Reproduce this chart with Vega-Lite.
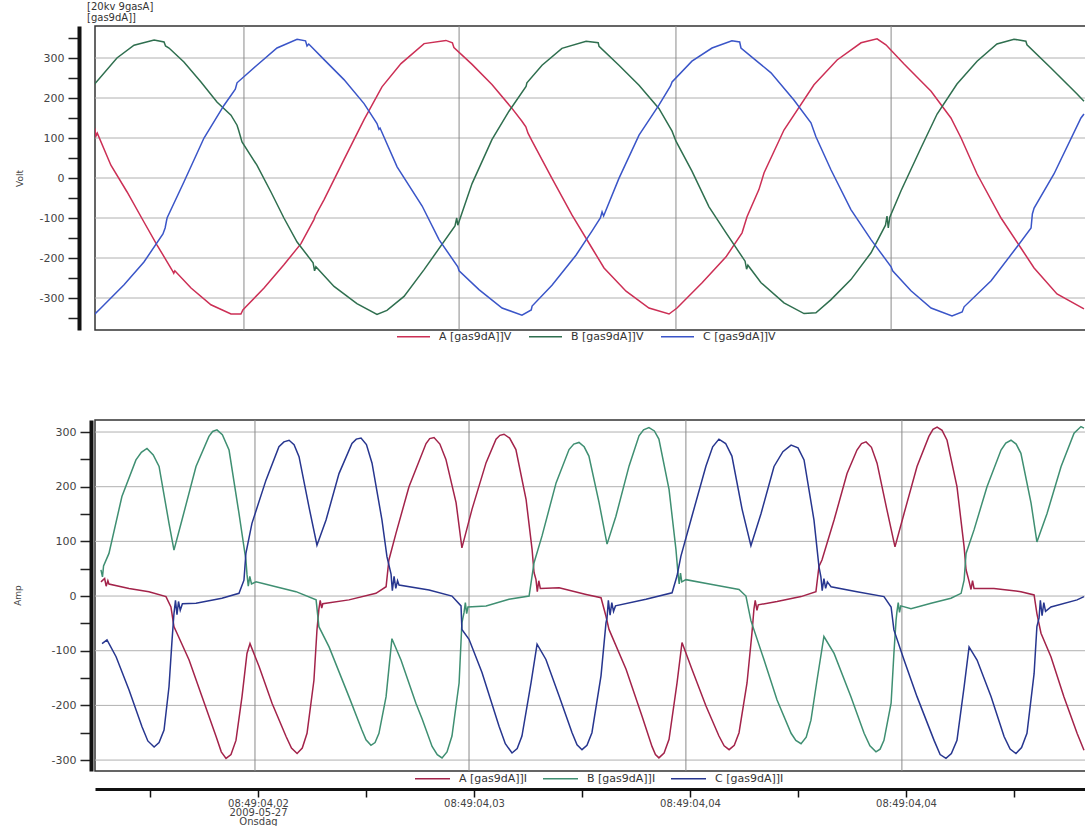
{
"$schema": "https://vega.github.io/schema/vega-lite/v6.json",
"usermeta": {"embedOptions": {"actions": false}},
"background": "white",
"padding": {"left": 12, "top": 0, "right": 0, "bottom": 0},
"config": {"font": "DejaVu Sans", "view": {"stroke": "#333333", "strokeWidth": 1.5}},
"datasets": {
"volt": [
{"p":"A","t":12.27,"v":140},{"p":"A","t":12.45,"v":122},{"p":"A","t":12.5,"v":105},{"p":"A","t":12.56,"v":112},{"p":"A","t":13.19,"v":32},{"p":"A","t":13.94,"v":-35},{"p":"A","t":14.72,"v":-110},{"p":"A","t":15.32,"v":-167},{"p":"A","t":16.02,"v":-230},{"p":"A","t":16.1,"v":-238},{"p":"A","t":16.15,"v":-232},{"p":"A","t":16.9,"v":-275},{"p":"A","t":17.82,"v":-317},{"p":"A","t":18.75,"v":-340},{"p":"A","t":19.21,"v":-340},{"p":"A","t":19.3,"v":-330},{"p":"A","t":19.44,"v":-322},{"p":"A","t":20.28,"v":-275},{"p":"A","t":21.2,"v":-217},{"p":"A","t":21.99,"v":-164},{"p":"A","t":22.59,"v":-104},{"p":"A","t":22.65,"v":-95},{"p":"A","t":23.06,"v":-54},{"p":"A","t":23.98,"v":46},{"p":"A","t":24.91,"v":146},{"p":"A","t":25.74,"v":228},{"p":"A","t":26.62,"v":286},{"p":"A","t":27.69,"v":336},{"p":"A","t":28.7,"v":344},{"p":"A","t":29.0,"v":338},{"p":"A","t":29.07,"v":326},{"p":"A","t":29.91,"v":284},{"p":"A","t":30.83,"v":234},{"p":"A","t":31.76,"v":174},{"p":"A","t":32.22,"v":142},{"p":"A","t":32.4,"v":128},{"p":"A","t":32.5,"v":112},{"p":"A","t":32.69,"v":92},{"p":"A","t":33.61,"v":-1},{"p":"A","t":34.54,"v":-93},{"p":"A","t":35.46,"v":-175},{"p":"A","t":36.02,"v":-225},{"p":"A","t":37.04,"v":-283},{"p":"A","t":38.1,"v":-325},{"p":"A","t":39.03,"v":-340},{"p":"A","t":39.4,"v":-325},{"p":"A","t":40.56,"v":-262},{"p":"A","t":41.67,"v":-197},{"p":"A","t":42.41,"v":-137},{"p":"A","t":42.64,"v":-97},{"p":"A","t":43.19,"v":-29},{"p":"A","t":43.43,"v":13},{"p":"A","t":44.35,"v":120},{"p":"A","t":45.74,"v":233},{"p":"A","t":46.81,"v":295},{"p":"A","t":47.92,"v":338},{"p":"A","t":48.66,"v":348},{"p":"A","t":49.07,"v":333},{"p":"A","t":49.91,"v":285},{"p":"A","t":51.16,"v":217},{"p":"A","t":52.08,"v":150},{"p":"A","t":52.55,"v":100},{"p":"A","t":53.29,"v":10},{"p":"A","t":54.4,"v":-100},{"p":"A","t":55.32,"v":-175},{"p":"A","t":55.93,"v":-225},{"p":"A","t":56.99,"v":-290},{"p":"A","t":58.24,"v":-327},
{"p":"B","t":12.27,"v":207},{"p":"B","t":12.31,"v":227},{"p":"B","t":13.47,"v":300},{"p":"B","t":14.26,"v":332},{"p":"B","t":15.19,"v":345},{"p":"B","t":15.65,"v":340},{"p":"B","t":15.72,"v":330},{"p":"B","t":15.88,"v":325},{"p":"B","t":16.57,"v":290},{"p":"B","t":17.36,"v":240},{"p":"B","t":18.1,"v":190},{"p":"B","t":18.75,"v":157},{"p":"B","t":19.03,"v":132},{"p":"B","t":19.1,"v":120},{"p":"B","t":19.26,"v":90},{"p":"B","t":19.95,"v":32},{"p":"B","t":20.6,"v":-35},{"p":"B","t":21.2,"v":-100},{"p":"B","t":21.81,"v":-160},{"p":"B","t":22.55,"v":-212},{"p":"B","t":22.62,"v":-232},{"p":"B","t":22.68,"v":-222},{"p":"B","t":23.52,"v":-271},{"p":"B","t":24.58,"v":-314},{"p":"B","t":25.51,"v":-341},{"p":"B","t":25.97,"v":-331},{"p":"B","t":26.76,"v":-296},{"p":"B","t":27.69,"v":-229},{"p":"B","t":29.12,"v":-120},{"p":"B","t":29.2,"v":-100},{"p":"B","t":29.25,"v":-118},{"p":"B","t":29.91,"v":-14},{"p":"B","t":30.83,"v":96},{"p":"B","t":31.62,"v":167},{"p":"B","t":32.41,"v":229},{"p":"B","t":32.45,"v":238},{"p":"B","t":33.15,"v":282},{"p":"B","t":34.07,"v":324},{"p":"B","t":35.19,"v":342},{"p":"B","t":35.75,"v":338},{"p":"B","t":35.79,"v":329},{"p":"B","t":36.71,"v":282},{"p":"B","t":37.64,"v":232},{"p":"B","t":38.56,"v":174},{"p":"B","t":39.17,"v":117},{"p":"B","t":39.35,"v":92},{"p":"B","t":40.09,"v":17},{"p":"B","t":40.88,"v":-72},{"p":"B","t":41.67,"v":-137},{"p":"B","t":42.55,"v":-208},{"p":"B","t":42.62,"v":-228},{"p":"B","t":42.68,"v":-218},{"p":"B","t":43.29,"v":-262},{"p":"B","t":44.35,"v":-312},{"p":"B","t":45.28,"v":-339},{"p":"B","t":45.83,"v":-337},{"p":"B","t":46.53,"v":-304},{"p":"B","t":47.45,"v":-254},{"p":"B","t":48.38,"v":-187},{"p":"B","t":49.05,"v":-118},{"p":"B","t":49.12,"v":-95},{"p":"B","t":49.18,"v":-125},{"p":"B","t":49.25,"v":-98},{"p":"B","t":49.77,"v":-32},{"p":"B","t":50.69,"v":75},{"p":"B","t":51.44,"v":160},{"p":"B","t":52.36,"v":235},{"p":"B","t":53.29,"v":292},{"p":"B","t":54.21,"v":335},{"p":"B","t":55.0,"v":347},{"p":"B","t":55.55,"v":342},{"p":"B","t":55.6,"v":333},{"p":"B","t":56.71,"v":275},{"p":"B","t":57.92,"v":210},{"p":"B","t":58.24,"v":192},
{"p":"C","t":12.41,"v":-342},{"p":"C","t":12.73,"v":-325},{"p":"C","t":13.8,"v":-267},{"p":"C","t":14.72,"v":-210},{"p":"C","t":15.6,"v":-140},{"p":"C","t":15.7,"v":-125},{"p":"C","t":15.79,"v":-100},{"p":"C","t":16.57,"v":-10},{"p":"C","t":17.5,"v":100},{"p":"C","t":18.43,"v":182},{"p":"C","t":18.95,"v":222},{"p":"C","t":19.03,"v":238},{"p":"C","t":19.95,"v":282},{"p":"C","t":20.88,"v":325},{"p":"C","t":21.81,"v":347},{"p":"C","t":22.2,"v":343},{"p":"C","t":22.27,"v":330},{"p":"C","t":22.35,"v":335},{"p":"C","t":23.06,"v":296},{"p":"C","t":23.98,"v":246},{"p":"C","t":24.91,"v":186},{"p":"C","t":25.51,"v":136},{"p":"C","t":25.6,"v":122},{"p":"C","t":25.65,"v":125},{"p":"C","t":26.44,"v":28},{"p":"C","t":27.6,"v":-70},{"p":"C","t":28.38,"v":-154},{"p":"C","t":29.25,"v":-222},{"p":"C","t":29.31,"v":-232},{"p":"C","t":30.23,"v":-279},{"p":"C","t":31.3,"v":-325},{"p":"C","t":32.22,"v":-343},{"p":"C","t":32.65,"v":-330},{"p":"C","t":32.69,"v":-320},{"p":"C","t":33.61,"v":-268},{"p":"C","t":34.72,"v":-193},{"p":"C","t":35.46,"v":-133},{"p":"C","t":35.85,"v":-100},{"p":"C","t":35.93,"v":-85},{"p":"C","t":36.0,"v":-95},{"p":"C","t":36.71,"v":-1},{"p":"C","t":37.64,"v":107},{"p":"C","t":38.56,"v":182},{"p":"C","t":39.1,"v":230},{"p":"C","t":39.17,"v":240},{"p":"C","t":40.09,"v":292},{"p":"C","t":41.02,"v":325},{"p":"C","t":41.94,"v":343},{"p":"C","t":42.3,"v":340},{"p":"C","t":42.36,"v":325},{"p":"C","t":43.19,"v":288},{"p":"C","t":43.75,"v":263},{"p":"C","t":44.81,"v":195},{"p":"C","t":45.6,"v":138},{"p":"C","t":45.83,"v":103},{"p":"C","t":46.53,"v":20},{"p":"C","t":47.45,"v":-79},{"p":"C","t":48.38,"v":-154},{"p":"C","t":49.31,"v":-222},{"p":"C","t":49.38,"v":-232},{"p":"C","t":50.23,"v":-282},{"p":"C","t":51.16,"v":-325},{"p":"C","t":52.13,"v":-345},{"p":"C","t":52.6,"v":-335},{"p":"C","t":52.69,"v":-322},{"p":"C","t":53.94,"v":-257},{"p":"C","t":55.0,"v":-182},{"p":"C","t":55.79,"v":-125},{"p":"C","t":55.85,"v":-90},{"p":"C","t":55.93,"v":-75},{"p":"C","t":56.85,"v":10},{"p":"C","t":58.1,"v":150},{"p":"C","t":58.24,"v":160}
],
"amp": [
{"p":"A","t":12.73,"v":26},{"p":"A","t":12.9,"v":32},{"p":"A","t":12.97,"v":18},{"p":"A","t":13.05,"v":28},{"p":"A","t":13.1,"v":22},{"p":"A","t":14.03,"v":14},{"p":"A","t":14.95,"v":8},{"p":"A","t":15.74,"v":-1},{"p":"A","t":15.97,"v":-20},{"p":"A","t":16.11,"v":-56},{"p":"A","t":16.25,"v":-68},{"p":"A","t":16.81,"v":-117},{"p":"A","t":17.41,"v":-184},{"p":"A","t":18.06,"v":-257},{"p":"A","t":18.52,"v":-297},{"p":"A","t":18.98,"v":-264},{"p":"A","t":19.26,"v":-184},{"p":"A","t":19.49,"v":-105},{"p":"A","t":19.63,"v":-87},{"p":"A","t":20.05,"v":-129},{"p":"A","t":20.65,"v":-196},{"p":"A","t":21.3,"v":-257},{"p":"A","t":21.81,"v":-288},{"p":"A","t":22.27,"v":-251},{"p":"A","t":22.59,"v":-154},{"p":"A","t":22.73,"v":-62},{"p":"A","t":22.82,"v":-24},{"p":"A","t":22.88,"v":-8},{"p":"A","t":22.95,"v":-22},{"p":"A","t":23.0,"v":-14},{"p":"A","t":24.21,"v":-7},{"p":"A","t":25.46,"v":5},{"p":"A","t":25.93,"v":17},{"p":"A","t":26.06,"v":66},{"p":"A","t":26.39,"v":115},{"p":"A","t":26.99,"v":200},{"p":"A","t":27.78,"v":279},{"p":"A","t":28.15,"v":290},{"p":"A","t":28.7,"v":250},{"p":"A","t":29.17,"v":171},{"p":"A","t":29.44,"v":88},{"p":"A","t":29.91,"v":159},{"p":"A","t":30.56,"v":244},{"p":"A","t":31.02,"v":287},{"p":"A","t":31.39,"v":296},{"p":"A","t":31.94,"v":268},{"p":"A","t":32.41,"v":177},{"p":"A","t":32.69,"v":85},{"p":"A","t":32.78,"v":43},{"p":"A","t":32.87,"v":30},{"p":"A","t":32.93,"v":8},{"p":"A","t":33.0,"v":28},{"p":"A","t":33.07,"v":14},{"p":"A","t":33.94,"v":15},{"p":"A","t":35.19,"v":3},{"p":"A","t":35.88,"v":-3},{"p":"A","t":36.11,"v":-37},{"p":"A","t":36.25,"v":-61},{"p":"A","t":37.04,"v":-134},{"p":"A","t":37.78,"v":-220},{"p":"A","t":38.24,"v":-275},{"p":"A","t":38.56,"v":-296},{"p":"A","t":39.03,"v":-262},{"p":"A","t":39.4,"v":-159},{"p":"A","t":39.63,"v":-85},{"p":"A","t":40.09,"v":-134},{"p":"A","t":40.74,"v":-201},{"p":"A","t":41.34,"v":-256},{"p":"A","t":41.81,"v":-281},{"p":"A","t":42.27,"v":-250},{"p":"A","t":42.64,"v":-159},{"p":"A","t":42.87,"v":-67},{"p":"A","t":42.96,"v":-24},{"p":"A","t":43.02,"v":-8},{"p":"A","t":43.1,"v":-26},{"p":"A","t":43.16,"v":-16},{"p":"A","t":44.03,"v":-10},{"p":"A","t":45.14,"v":-1},{"p":"A","t":45.83,"v":8},{"p":"A","t":45.97,"v":54},{"p":"A","t":46.11,"v":66},{"p":"A","t":46.67,"v":139},{"p":"A","t":47.27,"v":224},{"p":"A","t":47.73,"v":267},{"p":"A","t":48.15,"v":282},{"p":"A","t":48.66,"v":243},{"p":"A","t":49.12,"v":157},{"p":"A","t":49.49,"v":90},{"p":"A","t":49.91,"v":151},{"p":"A","t":50.51,"v":237},{"p":"A","t":51.06,"v":292},{"p":"A","t":51.44,"v":309},{"p":"A","t":51.9,"v":285},{"p":"A","t":52.36,"v":200},{"p":"A","t":52.69,"v":90},{"p":"A","t":52.78,"v":48},{"p":"A","t":52.9,"v":30},{"p":"A","t":53.01,"v":12},{"p":"A","t":53.08,"v":28},{"p":"A","t":53.15,"v":14},{"p":"A","t":54.07,"v":14},{"p":"A","t":55.32,"v":8},{"p":"A","t":55.93,"v":2},{"p":"A","t":56.06,"v":-32},{"p":"A","t":56.25,"v":-68},{"p":"A","t":56.71,"v":-111},{"p":"A","t":57.31,"v":-184},{"p":"A","t":57.92,"v":-251},{"p":"A","t":58.24,"v":-282},
{"p":"A","t":18.3,"v":-285},{"p":"A","t":18.75,"v":-290},{"p":"A","t":21.55,"v":-278},{"p":"A","t":22.05,"v":-278},{"p":"A","t":27.95,"v":288},{"p":"A","t":28.42,"v":278},{"p":"A","t":31.2,"v":294},{"p":"A","t":31.65,"v":289},{"p":"A","t":38.4,"v":-290},{"p":"A","t":38.8,"v":-287},{"p":"A","t":41.58,"v":-274},{"p":"A","t":42.05,"v":-273},{"p":"A","t":47.94,"v":279},{"p":"A","t":48.4,"v":272},{"p":"A","t":51.25,"v":305},{"p":"A","t":51.67,"v":303},
{"p":"B","t":12.73,"v":48},{"p":"B","t":12.8,"v":35},{"p":"B","t":12.85,"v":55},{"p":"B","t":13.1,"v":78},{"p":"B","t":13.7,"v":182},{"p":"B","t":14.35,"v":249},{"p":"B","t":14.86,"v":270},{"p":"B","t":15.42,"v":237},{"p":"B","t":15.88,"v":133},{"p":"B","t":16.11,"v":84},{"p":"B","t":16.48,"v":139},{"p":"B","t":17.13,"v":237},{"p":"B","t":17.73,"v":292},{"p":"B","t":18.1,"v":304},{"p":"B","t":18.66,"v":267},{"p":"B","t":19.12,"v":151},{"p":"B","t":19.44,"v":66},{"p":"B","t":19.49,"v":40},{"p":"B","t":19.55,"v":18},{"p":"B","t":19.62,"v":36},{"p":"B","t":19.7,"v":22},{"p":"B","t":19.91,"v":26},{"p":"B","t":20.83,"v":17},{"p":"B","t":21.76,"v":8},{"p":"B","t":22.69,"v":-7},{"p":"B","t":22.82,"v":-56},{"p":"B","t":23.29,"v":-93},{"p":"B","t":24.21,"v":-184},{"p":"B","t":24.81,"v":-245},{"p":"B","t":25.23,"v":-273},{"p":"B","t":25.6,"v":-251},{"p":"B","t":25.93,"v":-184},{"p":"B","t":26.2,"v":-78},{"p":"B","t":26.62,"v":-117},{"p":"B","t":27.31,"v":-196},{"p":"B","t":27.6,"v":-225},{"p":"B","t":28.06,"v":-275},{"p":"B","t":28.52,"v":-296},{"p":"B","t":28.98,"v":-256},{"p":"B","t":29.31,"v":-159},{"p":"B","t":29.44,"v":-49},{"p":"B","t":29.54,"v":-30},{"p":"B","t":29.6,"v":-12},{"p":"B","t":29.66,"v":-32},{"p":"B","t":29.72,"v":-20},{"p":"B","t":30.56,"v":-18},{"p":"B","t":31.62,"v":-6},{"p":"B","t":32.55,"v":0},{"p":"B","t":32.78,"v":61},{"p":"B","t":33.15,"v":110},{"p":"B","t":33.8,"v":207},{"p":"B","t":34.4,"v":268},{"p":"B","t":34.86,"v":281},{"p":"B","t":35.32,"v":256},{"p":"B","t":35.79,"v":171},{"p":"B","t":36.16,"v":95},{"p":"B","t":36.57,"v":146},{"p":"B","t":37.18,"v":238},{"p":"B","t":37.64,"v":293},{"p":"B","t":38.1,"v":308},{"p":"B","t":38.56,"v":287},{"p":"B","t":39.03,"v":195},{"p":"B","t":39.35,"v":85},{"p":"B","t":39.44,"v":43},{"p":"B","t":39.5,"v":22},{"p":"B","t":39.56,"v":42},{"p":"B","t":39.62,"v":26},{"p":"B","t":39.81,"v":30},{"p":"B","t":41.02,"v":21},{"p":"B","t":42.27,"v":12},{"p":"B","t":42.59,"v":0},{"p":"B","t":42.82,"v":-45},{"p":"B","t":43.43,"v":-117},{"p":"B","t":44.03,"v":-190},{"p":"B","t":44.68,"v":-251},{"p":"B","t":45.14,"v":-270},{"p":"B","t":45.6,"v":-227},{"p":"B","t":45.88,"v":-154},{"p":"B","t":46.2,"v":-74},{"p":"B","t":46.67,"v":-105},{"p":"B","t":47.45,"v":-184},{"p":"B","t":48.06,"v":-251},{"p":"B","t":48.61,"v":-285},{"p":"B","t":48.98,"v":-264},{"p":"B","t":49.31,"v":-196},{"p":"B","t":49.44,"v":-105},{"p":"B","t":49.54,"v":-44},{"p":"B","t":49.58,"v":-29},{"p":"B","t":49.64,"v":-12},{"p":"B","t":49.7,"v":-30},{"p":"B","t":49.76,"v":-18},{"p":"B","t":50.23,"v":-23},{"p":"B","t":51.16,"v":-13},{"p":"B","t":52.08,"v":-4},{"p":"B","t":52.55,"v":5},{"p":"B","t":52.69,"v":29},{"p":"B","t":52.78,"v":78},{"p":"B","t":53.15,"v":121},{"p":"B","t":53.75,"v":200},{"p":"B","t":54.4,"v":267},{"p":"B","t":54.86,"v":285},{"p":"B","t":55.32,"v":261},{"p":"B","t":55.79,"v":170},{"p":"B","t":56.06,"v":99},{"p":"B","t":56.53,"v":151},{"p":"B","t":57.18,"v":237},{"p":"B","t":57.78,"v":298},{"p":"B","t":58.1,"v":310},{"p":"B","t":58.24,"v":307},
{"p":"B","t":14.6,"v":263},{"p":"B","t":15.15,"v":258},{"p":"B","t":17.9,"v":301},{"p":"B","t":18.35,"v":295},{"p":"B","t":25.0,"v":-263},{"p":"B","t":25.42,"v":-268},{"p":"B","t":28.3,"v":-290},{"p":"B","t":28.75,"v":-285},{"p":"B","t":34.62,"v":278},{"p":"B","t":35.1,"v":273},{"p":"B","t":37.85,"v":304},{"p":"B","t":38.35,"v":302},{"p":"B","t":44.9,"v":-264},{"p":"B","t":45.38,"v":-258},{"p":"B","t":48.33,"v":-274},{"p":"B","t":48.8,"v":-280},{"p":"B","t":54.62,"v":280},{"p":"B","t":55.1,"v":278},
{"p":"C","t":12.78,"v":-87},{"p":"C","t":13.01,"v":-80},{"p":"C","t":13.43,"v":-111},{"p":"C","t":14.03,"v":-172},{"p":"C","t":14.63,"v":-239},{"p":"C","t":15.19,"v":-276},{"p":"C","t":15.65,"v":-245},{"p":"C","t":15.88,"v":-166},{"p":"C","t":16.02,"v":-81},{"p":"C","t":16.11,"v":-32},{"p":"C","t":16.18,"v":-8},{"p":"C","t":16.25,"v":-34},{"p":"C","t":16.32,"v":-10},{"p":"C","t":16.4,"v":-26},{"p":"C","t":16.5,"v":-14},{"p":"C","t":17.13,"v":-13},{"p":"C","t":18.33,"v":-4},{"p":"C","t":19.12,"v":5},{"p":"C","t":19.35,"v":29},{"p":"C","t":19.44,"v":78},{"p":"C","t":19.72,"v":133},{"p":"C","t":20.37,"v":212},{"p":"C","t":20.97,"v":273},{"p":"C","t":21.44,"v":285},{"p":"C","t":21.9,"v":255},{"p":"C","t":22.36,"v":163},{"p":"C","t":22.73,"v":93},{"p":"C","t":23.15,"v":139},{"p":"C","t":23.75,"v":224},{"p":"C","t":24.35,"v":279},{"p":"C","t":24.77,"v":289},{"p":"C","t":25.28,"v":243},{"p":"C","t":25.74,"v":139},{"p":"C","t":25.97,"v":72},{"p":"C","t":26.16,"v":40},{"p":"C","t":26.22,"v":10},{"p":"C","t":26.3,"v":36},{"p":"C","t":26.38,"v":14},{"p":"C","t":26.46,"v":28},{"p":"C","t":26.53,"v":20},{"p":"C","t":27.92,"v":11},{"p":"C","t":28.98,"v":0},{"p":"C","t":29.4,"v":-18},{"p":"C","t":29.44,"v":-61},{"p":"C","t":29.77,"v":-79},{"p":"C","t":30.37,"v":-140},{"p":"C","t":31.16,"v":-238},{"p":"C","t":31.76,"v":-287},{"p":"C","t":32.22,"v":-256},{"p":"C","t":32.64,"v":-159},{"p":"C","t":32.92,"v":-88},{"p":"C","t":33.33,"v":-116},{"p":"C","t":33.94,"v":-183},{"p":"C","t":34.54,"v":-250},{"p":"C","t":35.0,"v":-281},{"p":"C","t":35.46,"v":-250},{"p":"C","t":35.88,"v":-146},{"p":"C","t":36.11,"v":-49},{"p":"C","t":36.16,"v":-40},{"p":"C","t":36.22,"v":-8},{"p":"C","t":36.3,"v":-35},{"p":"C","t":36.38,"v":-12},{"p":"C","t":36.46,"v":-28},{"p":"C","t":36.55,"v":-18},{"p":"C","t":37.96,"v":-6},{"p":"C","t":39.17,"v":6},{"p":"C","t":39.4,"v":37},{"p":"C","t":39.58,"v":73},{"p":"C","t":40.09,"v":146},{"p":"C","t":40.74,"v":238},{"p":"C","t":41.34,"v":287},{"p":"C","t":41.94,"v":256},{"p":"C","t":42.41,"v":159},{"p":"C","t":42.82,"v":92},{"p":"C","t":43.29,"v":151},{"p":"C","t":43.89,"v":237},{"p":"C","t":44.68,"v":276},{"p":"C","t":45.28,"v":249},{"p":"C","t":45.74,"v":139},{"p":"C","t":45.97,"v":54},{"p":"C","t":46.06,"v":35},{"p":"C","t":46.12,"v":10},{"p":"C","t":46.2,"v":32},{"p":"C","t":46.28,"v":14},{"p":"C","t":46.36,"v":26},{"p":"C","t":46.53,"v":17},{"p":"C","t":47.73,"v":8},{"p":"C","t":48.98,"v":-1},{"p":"C","t":49.31,"v":-20},{"p":"C","t":49.44,"v":-62},{"p":"C","t":49.91,"v":-117},{"p":"C","t":50.51,"v":-184},{"p":"C","t":51.3,"v":-264},{"p":"C","t":51.85,"v":-297},{"p":"C","t":52.36,"v":-264},{"p":"C","t":52.69,"v":-166},{"p":"C","t":52.92,"v":-93},{"p":"C","t":53.29,"v":-117},{"p":"C","t":53.94,"v":-184},{"p":"C","t":54.54,"v":-257},{"p":"C","t":55.09,"v":-288},{"p":"C","t":55.6,"v":-251},{"p":"C","t":55.93,"v":-142},{"p":"C","t":56.06,"v":-56},{"p":"C","t":56.16,"v":-40},{"p":"C","t":56.22,"v":-8},{"p":"C","t":56.3,"v":-36},{"p":"C","t":56.38,"v":-12},{"p":"C","t":56.46,"v":-28},{"p":"C","t":56.71,"v":-20},{"p":"C","t":57.92,"v":-7},{"p":"C","t":58.24,"v":-1},
{"p":"C","t":14.9,"v":-265},{"p":"C","t":15.42,"v":-268},{"p":"C","t":21.2,"v":282},{"p":"C","t":21.67,"v":277},{"p":"C","t":24.55,"v":287},{"p":"C","t":25.02,"v":277},{"p":"C","t":31.45,"v":-270},{"p":"C","t":32.0,"v":-279},{"p":"C","t":34.77,"v":-272},{"p":"C","t":35.23,"v":-273},{"p":"C","t":41.05,"v":273},{"p":"C","t":41.65,"v":279},{"p":"C","t":44.3,"v":264},{"p":"C","t":45.0,"v":271},{"p":"C","t":51.58,"v":-290},{"p":"C","t":52.1,"v":-288},{"p":"C","t":54.82,"v":-280},{"p":"C","t":55.35,"v":-277}
]
},
"resolve": {"scale": {"x": "independent", "y": "independent", "color": "independent"}},
"spacing": 75,
"vconcat": [
{
"width": 994, "height": 304,
"title": {"text": ["[20kv 9gasA]", "[gas9dA]]"], "anchor": "start", "frame": "group", "fontSize": 10, "fontWeight": "normal", "color": "#333333", "lineHeight": 11, "offset": 3, "dx": -8},
"layer": [
{"data": {"values": [{"v":-300},{"v":-200},{"v":-100},{"v":0},{"v":100},{"v":200},{"v":300}]},
 "mark": {"type": "rule", "color": "#b0b0b0", "strokeWidth": 1},
 "encoding": {"y": {"field": "v", "type": "quantitative", "scale": {"domain": [-380, 380], "nice": false, "zero": false},
   "axis": {"title": "Volt", "values": [-350,-300,-250,-200,-150,-100,-50,0,50,100,150,200,250,300,350], "labelExpr": "datum.value % 100 == 0 ? toString(datum.value) : ''", "grid": false, "offset": 16, "domainWidth": 4, "domainColor": "#111111", "tickSize": 11, "tickWidth": 1.5, "tickColor": "#222222", "labelPadding": 4, "labelFontSize": 11, "labelColor": "#444444", "labelOverlap": false, "titleFontSize": 9, "titleFontWeight": "normal", "titleColor": "#444444", "titleX": -55, "titleY": 152}}}},
{"data": {"values": [{"t":19.35},{"t":29.31},{"t":39.35},{"t":49.31}]},
 "mark": {"type": "rule", "color": "#8a8a8a", "strokeWidth": 1},
 "encoding": {"x": {"field": "t", "type": "quantitative", "scale": {"domain": [12.454, 58.472], "nice": false, "zero": false}, "axis": null}}},
{"data": {"name": "volt"},
 "mark": {"type": "line", "strokeWidth": 1.5, "clip": true},
 "encoding": {
  "x": {"field": "t", "type": "quantitative", "scale": {"domain": [12.454, 58.472], "nice": false, "zero": false}, "axis": null},
  "y": {"field": "v", "type": "quantitative", "scale": {"domain": [-380, 380], "nice": false, "zero": false},
   "axis": {"title": "Volt", "values": [-350,-300,-250,-200,-150,-100,-50,0,50,100,150,200,250,300,350], "labelExpr": "datum.value % 100 == 0 ? toString(datum.value) : ''", "grid": false, "offset": 16, "domainWidth": 4, "domainColor": "#111111", "tickSize": 11, "tickWidth": 1.5, "tickColor": "#222222", "labelPadding": 4, "labelFontSize": 11, "labelColor": "#444444", "labelOverlap": false, "titleFontSize": 9, "titleFontWeight": "normal", "titleColor": "#444444", "titleX": -55, "titleY": 152}},
  "color": {"field": "p", "type": "nominal", "scale": {"domain": ["A","B","C"], "range": ["#cc2f55","#2f6f4f","#3a55c8"]},
   "legend": {"title": null, "orient": "none", "legendX": 301, "legendY": 293, "direction": "horizontal", "symbolType": "stroke", "symbolSize": 1089, "symbolStrokeWidth": 1.5, "labelExpr": "datum.label + ' [gas9dA]]V'", "labelFontSize": 11, "labelColor": "#333333", "columnPadding": 14, "labelOffset": 8, "padding": 0}}
 }}
]
},
{
"resolve": {"scale": {"x": "independent", "y": "independent", "color": "independent"}},
"spacing": 3,
"vconcat": [
{
"width": 994, "height": 351,
"layer": [
{"data": {"values": [{"v":-300},{"v":-200},{"v":-100},{"v":0},{"v":100},{"v":200},{"v":300}]},
 "mark": {"type": "rule", "color": "#b0b0b0", "strokeWidth": 1},
 "encoding": {"y": {"field": "v", "type": "quantitative", "scale": {"domain": [-320, 322], "nice": false, "zero": false},
   "axis": {"title": "Amp", "values": [-300,-250,-200,-150,-100,-50,0,50,100,150,200,250,300], "labelExpr": "datum.value % 100 == 0 ? toString(datum.value) : ''", "grid": false, "offset": 4, "domainWidth": 4, "domainColor": "#111111", "tickSize": 11, "tickWidth": 1.5, "tickColor": "#222222", "labelPadding": 4, "labelFontSize": 11, "labelColor": "#444444", "labelOverlap": false, "titleFontSize": 9, "titleFontWeight": "normal", "titleColor": "#444444", "titleX": -69, "titleY": 175}}}},
{"data": {"values": [{"t":19.86},{"t":29.77},{"t":39.81},{"t":49.81}]},
 "mark": {"type": "rule", "color": "#8a8a8a", "strokeWidth": 1},
 "encoding": {"x": {"field": "t", "type": "quantitative", "scale": {"domain": [12.454, 58.472], "nice": false, "zero": false}, "axis": null}}},
{"data": {"name": "amp"},
 "mark": {"type": "line", "strokeWidth": 1.5, "clip": true},
 "encoding": {
  "x": {"field": "t", "type": "quantitative", "scale": {"domain": [12.454, 58.472], "nice": false, "zero": false}, "axis": null},
  "y": {"field": "v", "type": "quantitative", "scale": {"domain": [-320, 322], "nice": false, "zero": false},
   "axis": {"title": "Amp", "values": [-300,-250,-200,-150,-100,-50,0,50,100,150,200,250,300], "labelExpr": "datum.value % 100 == 0 ? toString(datum.value) : ''", "grid": false, "offset": 4, "domainWidth": 4, "domainColor": "#111111", "tickSize": 11, "tickWidth": 1.5, "tickColor": "#222222", "labelPadding": 4, "labelFontSize": 11, "labelColor": "#444444", "labelOverlap": false, "titleFontSize": 9, "titleFontWeight": "normal", "titleColor": "#444444", "titleX": -69, "titleY": 175}},
  "color": {"field": "p", "type": "nominal", "scale": {"domain": ["A","B","C"], "range": ["#a3234a","#3f8f72","#27368f"]},
   "legend": {"title": null, "orient": "none", "legendX": 319, "legendY": 340, "direction": "horizontal", "symbolType": "stroke", "symbolSize": 1225, "symbolStrokeWidth": 1.5, "labelExpr": "datum.label + ' [gas9dA]]I'", "labelFontSize": 11, "labelColor": "#333333", "columnPadding": 12, "labelOffset": 8, "padding": 0}}
 }}
]
},
{
"width": 994, "height": 1,
"view": {"stroke": null},
"data": {"values": [{"t":15},{"t":20},{"t":25},{"t":30},{"t":35},{"t":40},{"t":45},{"t":50},{"t":55}]},
"mark": {"type": "rule", "opacity": 0},
"encoding": {
 "x": {"field": "t", "type": "quantitative", "scale": {"domain": [12.454, 58.472], "nice": false, "zero": false},
  "axis": {"title": null, "orient": "bottom", "values": [15,20,25,30,35,40,45,50,55], "labelExpr": "datum.value == 20 ? ['08:49:04,02', '2009-05-27', 'Onsdag'] : datum.value == 30 ? '08:49:04,03' : (datum.value == 40 || datum.value == 50) ? '08:49:04,04' : ''", "grid": false, "domainWidth": 3, "domainColor": "#111111", "tickSize": 8, "tickWidth": 1.5, "tickColor": "#111111", "labelFontSize": 10, "labelColor": "#444444", "labelPadding": 1, "labelLineHeight": 9, "labelOverlap": false, "labelFlush": false, "labelBaseline": "top"}}
}
}
]
}
]
}
